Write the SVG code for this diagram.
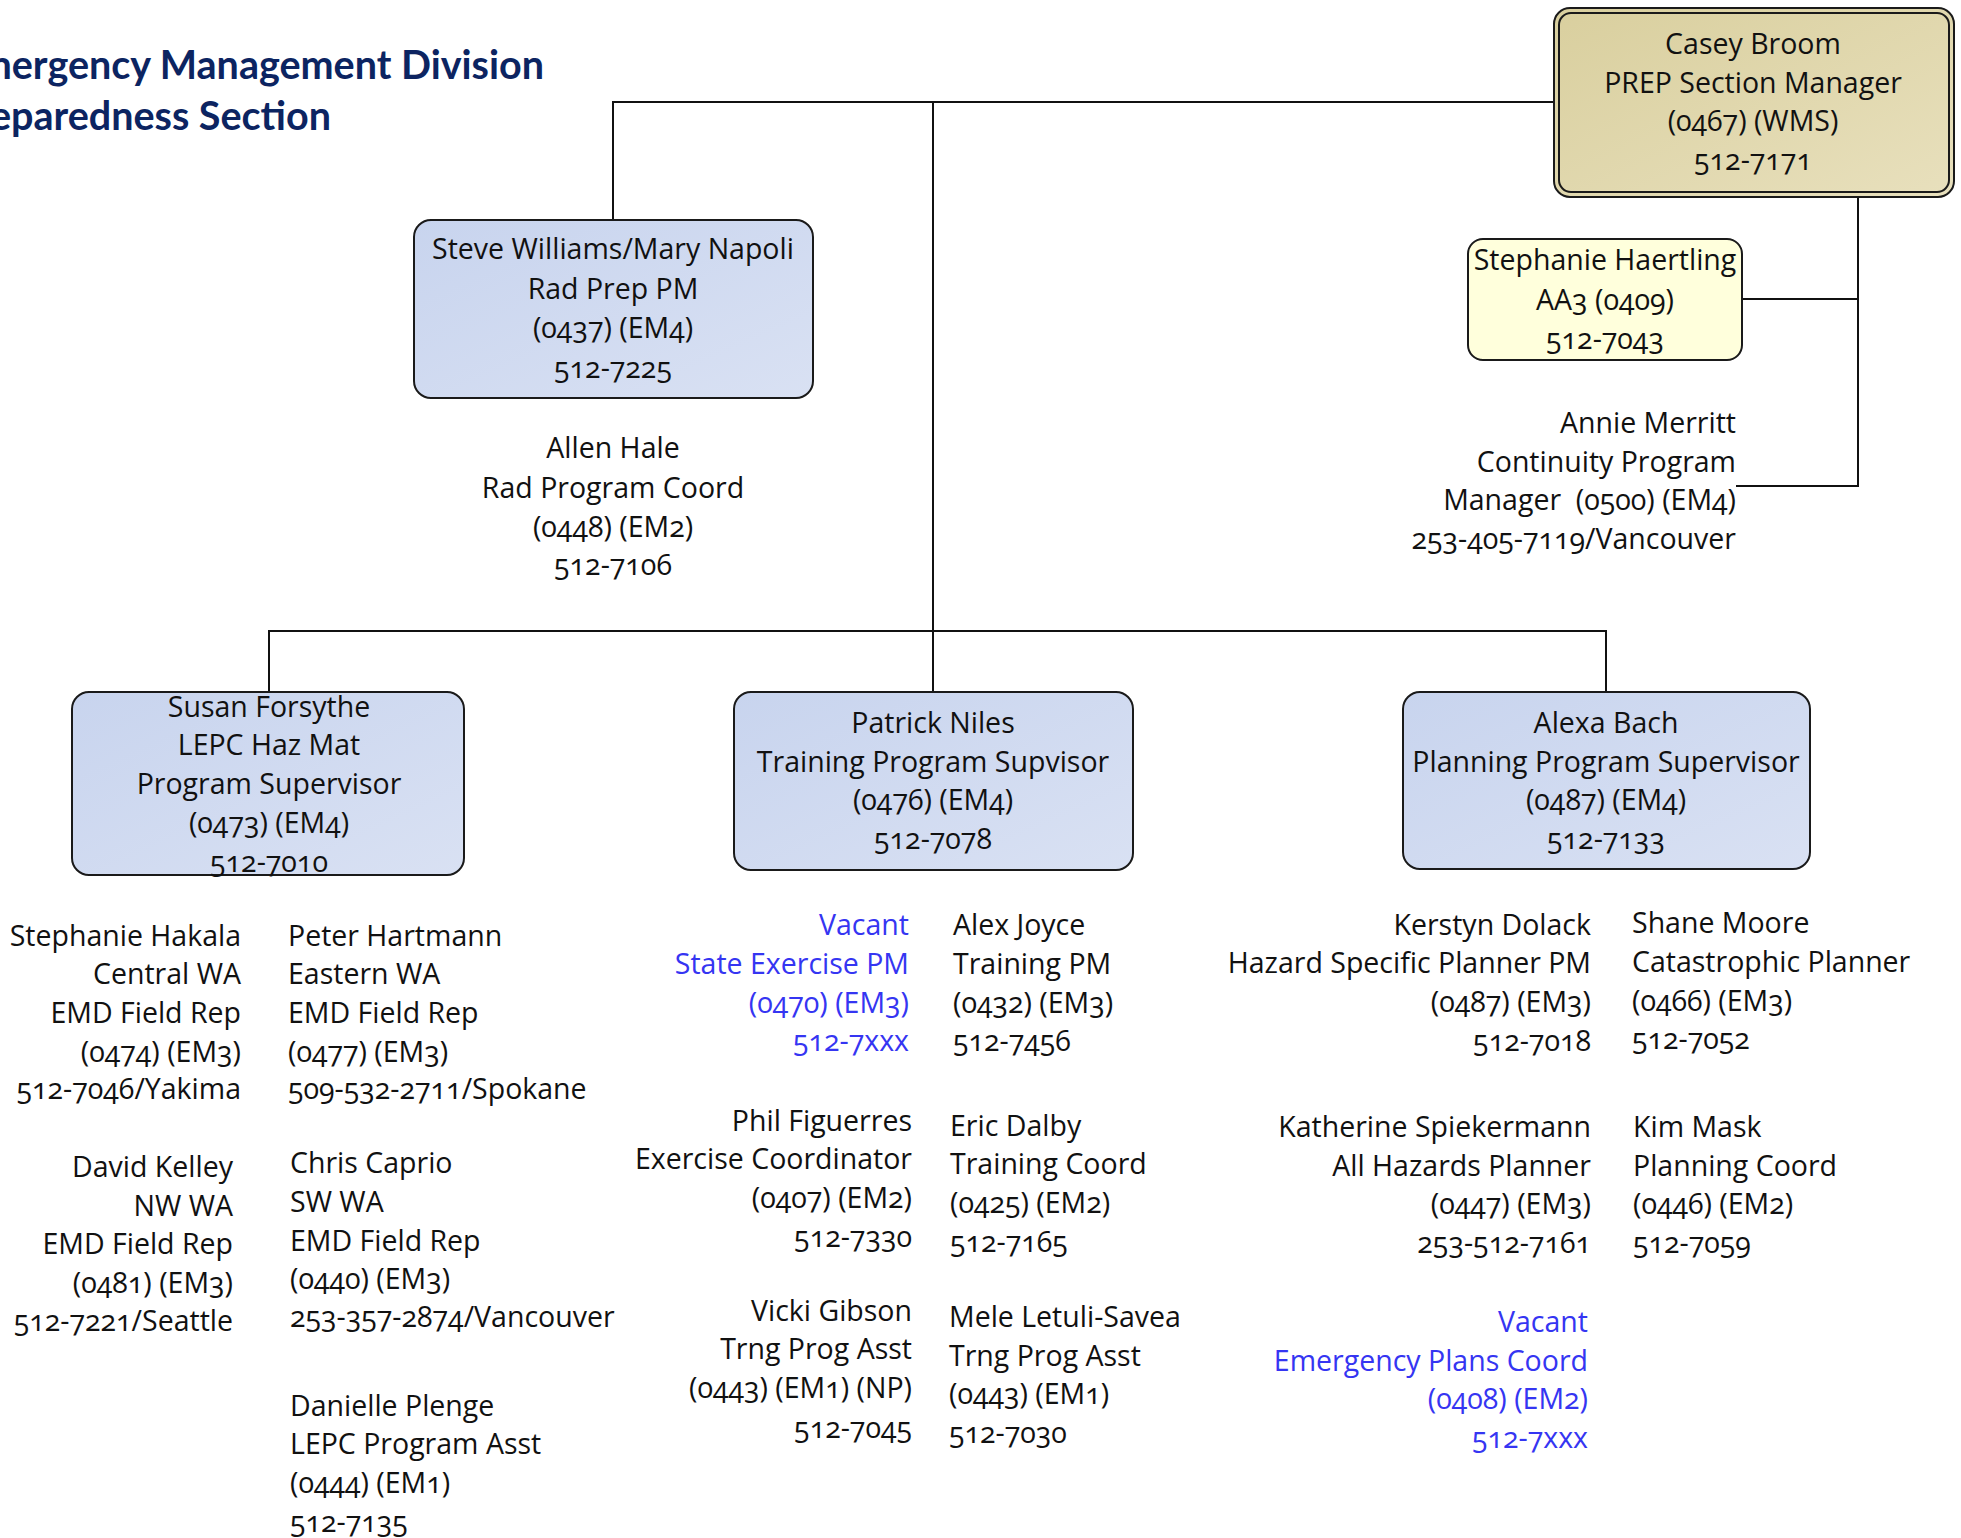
<svg xmlns="http://www.w3.org/2000/svg" width="1961" height="1538" viewBox="0 0 1961 1538">
<defs>
  <linearGradient id="blue" x1="0" y1="0" x2="1" y2="1">
    <stop offset="0" stop-color="#c8d4ee"/>
    <stop offset="1" stop-color="#d9e1f3"/>
  </linearGradient>
  <linearGradient id="tan" x1="0" y1="0" x2="1" y2="1">
    <stop offset="0" stop-color="#d9cf9e"/>
    <stop offset="1" stop-color="#e8e0bd"/>
  </linearGradient>
</defs>
<style>
  text { font-family: "Open Sans", "Lato", sans-serif; font-size: 28.5px; fill: #111111; font-variant-numeric: oldstyle-nums; }
  .c { text-anchor: middle; }
  .r { text-anchor: end; }
  .l { text-anchor: start; }
  .v { fill: #3535f2; }
  .title { font-family: "Lato", "Open Sans", sans-serif; font-weight: bold; font-size: 39.5px; fill: #0c2461; text-anchor: end; }
  .box { fill: url(#blue); stroke: #1a1a1a; stroke-width: 2; }
  .conn { stroke: #111111; stroke-width: 2; fill: none; }
</style>
<rect width="1961" height="1538" fill="#ffffff"/>

<g id="title">
  <text class="title" x="544" y="79">Emergency Management Division</text>
  <text class="title" x="331" y="130">Preparedness Section</text>
</g>

<g id="connectors">
  <path class="conn" d="M613,220 V102 H1554"/>
  <path class="conn" d="M933,102 V692"/>
  <path class="conn" d="M269,692 V631 H1606 V692"/>
  <path class="conn" d="M1858,197 V486 H1736"/>
  <path class="conn" d="M1742,299 H1858"/>
</g>

<g id="casey-broom">
  <rect x="1554" y="8" width="400" height="189" rx="16" fill="url(#tan)" stroke="#1a1a1a" stroke-width="2"/>
  <rect x="1559" y="13" width="390" height="179" rx="12" fill="none" stroke="#1a1a1a" stroke-width="2"/>
  <text class="c"><tspan x="1753" y="54">Casey Broom</tspan><tspan x="1753" y="93">PREP Section Manager</tspan><tspan x="1753" y="131">(0467) (WMS)</tspan><tspan x="1753" y="170">512-7171</tspan></text>
</g>

<g id="steve-williams">
  <rect class="box" x="414" y="220" width="399" height="178" rx="17"/>
  <text class="c"><tspan x="613" y="259">Steve Williams/Mary Napoli</tspan><tspan x="613" y="299">Rad Prep PM</tspan><tspan x="613" y="338">(0437) (EM4)</tspan><tspan x="613" y="378">512-7225</tspan></text>
</g>

<g id="allen-hale">
  <text class="c"><tspan x="613" y="458">Allen Hale</tspan><tspan x="613" y="498">Rad Program Coord</tspan><tspan x="613" y="537">(0448) (EM2)</tspan><tspan x="613" y="575">512-7106</tspan></text>
</g>

<g id="stephanie-haertling">
  <rect x="1468" y="239" width="274" height="121" rx="15" fill="#ffffdc" stroke="#1a1a1a" stroke-width="2"/>
  <text class="c"><tspan x="1605" y="270">Stephanie Haertling</tspan><tspan x="1605" y="310">AA3 (0409)</tspan><tspan x="1605" y="349">512-7043</tspan></text>
</g>

<g id="annie-merritt">
  <text class="r"><tspan x="1736" y="433">Annie Merritt</tspan><tspan x="1736" y="472">Continuity Program</tspan><tspan x="1736" y="510">Manager &#160;(0500) (EM4)</tspan><tspan x="1736" y="549">253-405-7119/Vancouver</tspan></text>
</g>

<g id="susan-forsythe">
  <rect class="box" x="72" y="692" width="392" height="183" rx="17"/>
  <text class="c"><tspan x="269" y="717">Susan Forsythe</tspan><tspan x="269" y="755">LEPC Haz Mat</tspan><tspan x="269" y="794">Program Supervisor</tspan><tspan x="269" y="833">(0473) (EM4)</tspan><tspan x="269" y="872">512-7010</tspan></text>
</g>

<g id="patrick-niles">
  <rect class="box" x="734" y="692" width="399" height="178" rx="17"/>
  <text class="c"><tspan x="933" y="733">Patrick Niles</tspan><tspan x="933" y="772">Training Program Supvisor</tspan><tspan x="933" y="810">(0476) (EM4)</tspan><tspan x="933" y="849">512-7078</tspan></text>
</g>

<g id="alexa-bach">
  <rect class="box" x="1403" y="692" width="407" height="177" rx="17"/>
  <text class="c"><tspan x="1606" y="733">Alexa Bach</tspan><tspan x="1606" y="772">Planning Program Supervisor</tspan><tspan x="1606" y="810">(0487) (EM4)</tspan><tspan x="1606" y="849">512-7133</tspan></text>
</g>

<g id="stephanie-hakala">
  <text class="r"><tspan x="241" y="946">Stephanie Hakala</tspan><tspan x="241" y="984">Central WA</tspan><tspan x="241" y="1023">EMD Field Rep</tspan><tspan x="241" y="1062">(0474) (EM3)</tspan><tspan x="241" y="1099">512-7046/Yakima</tspan></text>
</g>

<g id="peter-hartmann">
  <text class="l"><tspan x="288" y="946">Peter Hartmann</tspan><tspan x="288" y="984">Eastern WA</tspan><tspan x="288" y="1023">EMD Field Rep</tspan><tspan x="288" y="1062">(0477) (EM3)</tspan><tspan x="288" y="1099">509-532-2711/Spokane</tspan></text>
</g>

<g id="david-kelley">
  <text class="r"><tspan x="233" y="1177">David Kelley</tspan><tspan x="233" y="1216">NW WA</tspan><tspan x="233" y="1254">EMD Field Rep</tspan><tspan x="233" y="1293">(0481) (EM3)</tspan><tspan x="233" y="1331">512-7221/Seattle</tspan></text>
</g>

<g id="chris-caprio">
  <text class="l"><tspan x="290" y="1173">Chris Caprio</tspan><tspan x="290" y="1212">SW WA</tspan><tspan x="290" y="1251">EMD Field Rep</tspan><tspan x="290" y="1289">(0440) (EM3)</tspan><tspan x="290" y="1327">253-357-2874/Vancouver</tspan></text>
</g>

<g id="danielle-plenge">
  <text class="l"><tspan x="290" y="1416">Danielle Plenge</tspan><tspan x="290" y="1454">LEPC Program Asst</tspan><tspan x="290" y="1493">(0444) (EM1)</tspan><tspan x="290" y="1532">512-7135</tspan></text>
</g>

<g id="vacant-state-exercise">
  <text class="r v"><tspan x="909" y="935">Vacant</tspan><tspan x="909" y="974">State Exercise PM</tspan><tspan x="909" y="1013">(0470) (EM3)</tspan><tspan x="909" y="1051">512-7xxx</tspan></text>
</g>

<g id="alex-joyce">
  <text class="l"><tspan x="953" y="935">Alex Joyce</tspan><tspan x="953" y="974">Training PM</tspan><tspan x="953" y="1013">(0432) (EM3)</tspan><tspan x="953" y="1051">512-7456</tspan></text>
</g>

<g id="phil-figuerres">
  <text class="r"><tspan x="912" y="1131">Phil Figuerres</tspan><tspan x="912" y="1169">Exercise Coordinator</tspan><tspan x="912" y="1208">(0407) (EM2)</tspan><tspan x="912" y="1247">512-7330</tspan></text>
</g>

<g id="eric-dalby">
  <text class="l"><tspan x="950" y="1136">Eric Dalby</tspan><tspan x="950" y="1174">Training Coord</tspan><tspan x="950" y="1213">(0425) (EM2)</tspan><tspan x="950" y="1252">512-7165</tspan></text>
</g>

<g id="vicki-gibson">
  <text class="r"><tspan x="912" y="1321">Vicki Gibson</tspan><tspan x="912" y="1359">Trng Prog Asst</tspan><tspan x="912" y="1398">(0443) (EM1) (NP)</tspan><tspan x="912" y="1438">512-7045</tspan></text>
</g>

<g id="mele-letuli-savea">
  <text class="l"><tspan x="949" y="1327">Mele Letuli-Savea</tspan><tspan x="949" y="1366">Trng Prog Asst</tspan><tspan x="949" y="1404">(0443) (EM1)</tspan><tspan x="949" y="1443">512-7030</tspan></text>
</g>

<g id="kerstyn-dolack">
  <text class="r"><tspan x="1591" y="935">Kerstyn Dolack</tspan><tspan x="1591" y="973">Hazard Specific Planner PM</tspan><tspan x="1591" y="1012">(0487) (EM3)</tspan><tspan x="1591" y="1051">512-7018</tspan></text>
</g>

<g id="shane-moore">
  <text class="l"><tspan x="1632" y="933">Shane Moore</tspan><tspan x="1632" y="972">Catastrophic Planner</tspan><tspan x="1632" y="1011">(0466) (EM3)</tspan><tspan x="1632" y="1049">512-7052</tspan></text>
</g>

<g id="katherine-spiekermann">
  <text class="r"><tspan x="1591" y="1137">Katherine Spiekermann</tspan><tspan x="1591" y="1176">All Hazards Planner</tspan><tspan x="1591" y="1214">(0447) (EM3)</tspan><tspan x="1591" y="1253">253-512-7161</tspan></text>
</g>

<g id="kim-mask">
  <text class="l"><tspan x="1633" y="1137">Kim Mask</tspan><tspan x="1633" y="1176">Planning Coord</tspan><tspan x="1633" y="1214">(0446) (EM2)</tspan><tspan x="1633" y="1253">512-7059</tspan></text>
</g>

<g id="vacant-emergency-plans">
  <text class="r v"><tspan x="1588" y="1332">Vacant</tspan><tspan x="1588" y="1371">Emergency Plans Coord</tspan><tspan x="1588" y="1409">(0408) (EM2)</tspan><tspan x="1588" y="1448">512-7xxx</tspan></text>
</g>
</svg>
